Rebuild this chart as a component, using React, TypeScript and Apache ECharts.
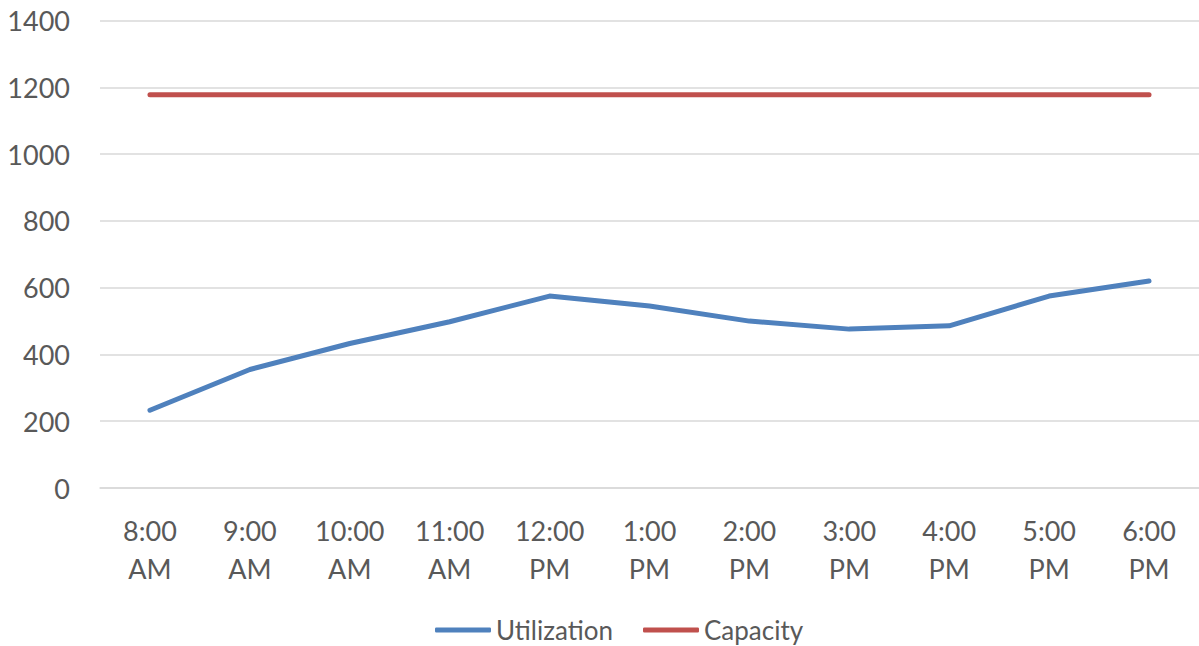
import React, { useEffect, useRef } from "react";
import * as echarts from "echarts";

const categories = ["8:00 AM", "9:00 AM", "10:00 AM", "11:00 AM", "12:00 PM", "1:00 PM", "2:00 PM", "3:00 PM", "4:00 PM", "5:00 PM", "6:00 PM"];
const utilization = [233, 355, 433, 498, 575, 545, 500, 476, 486, 575, 620];
const capacity = [1178, 1178, 1178, 1178, 1178, 1178, 1178, 1178, 1178, 1178, 1178];
const yTicks = { min: 0, max: 1400, interval: 200 };

const FONT = "Lato, 'Open Sans', sans-serif";
const TEXT = "#595959";

export default function App() {
  const ref = useRef<HTMLDivElement>(null);
  useEffect(() => {
    if (!ref.current) return;
    const chart = echarts.init(ref.current, null, { renderer: "svg" });
    chart.setOption({
      animation: false,
      textStyle: { fontFamily: FONT },
      grid: { left: 100, width: 1107, top: 20.7, height: 467.3 },
      legend: {
        top: 612,
        left: 430,
        icon: "roundRect",
        itemWidth: 56,
        itemHeight: 5,
        itemGap: 30,
        textStyle: { fontFamily: FONT, fontSize: 26, color: TEXT },
        data: ["Utilization", "Capacity"],
      },
      xAxis: {
        type: "category",
        data: categories,
        boundaryGap: true,
        axisLine: { show: true, lineStyle: { color: "#d9d9d9", width: 1.5 } },
        axisTick: { show: false },
        axisLabel: {
          interval: 0,
          margin: 23,
          fontSize: 27,
          lineHeight: 38,
          color: TEXT,
          fontFamily: FONT,
          formatter: (v: string) => v.replace(" ", "\n"),
        },
      },
      yAxis: {
        type: "value",
        min: yTicks.min,
        max: yTicks.max,
        interval: yTicks.interval,
        axisLine: { show: false },
        axisTick: { show: false },
        axisLabel: {
          margin: 30,
          fontSize: 27,
          color: TEXT,
          fontFamily: FONT,
          formatter: (v: number) => String(v),
        },
        splitLine: { lineStyle: { color: "#d9d9d9", width: 1.5 } },
      },
      series: [
        {
          name: "Utilization",
          type: "line",
          data: utilization,
          symbol: "none",
          itemStyle: { color: "#4F81BD" },
          lineStyle: { color: "#4F81BD", width: 5, cap: "round", join: "round" },
        },
        {
          name: "Capacity",
          type: "line",
          data: capacity,
          symbol: "none",
          itemStyle: { color: "#C0504D" },
          lineStyle: { color: "#C0504D", width: 5, cap: "round", join: "round" },
        },
      ],
    });
    return () => chart.dispose();
  }, []);
  return <div ref={ref} style={{ width: 1199, height: 646, position: "absolute", left: 0, top: 0 }} />;
}
